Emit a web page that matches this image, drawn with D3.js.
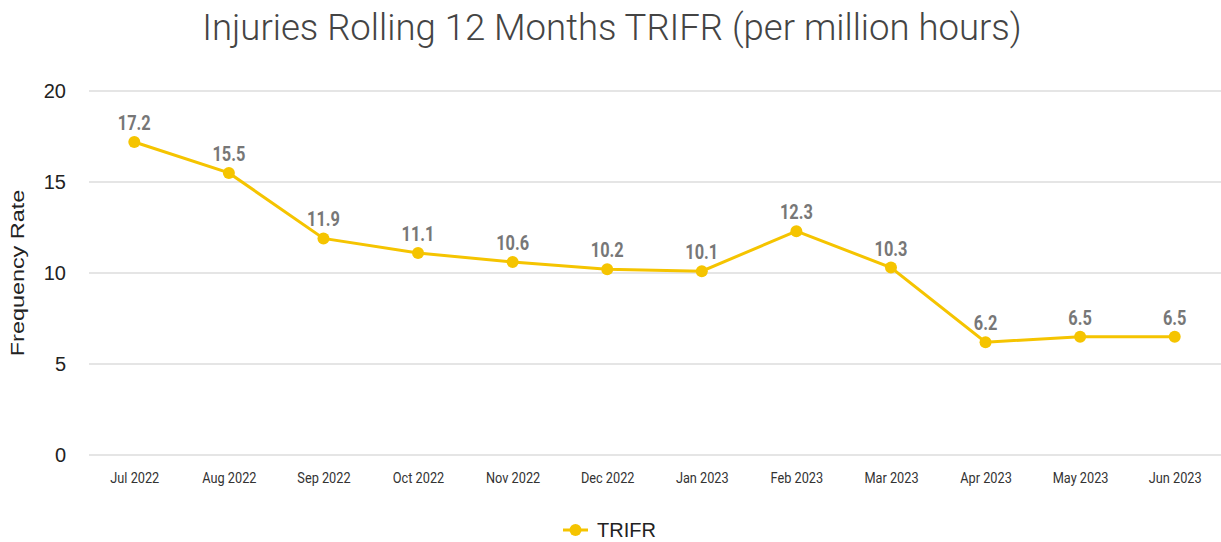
<!DOCTYPE html>
<html>
<head>
<meta charset="utf-8">
<script src="https://cdn.jsdelivr.net/npm/d3@7"></script>
<style>
  body { margin: 0; background: #fff; }
  svg { display: block; }
</style>
</head>
<body>
<div id="chart"></div>
<script>
// chart data
const months = ["Jul 2022", "Aug 2022", "Sep 2022", "Oct 2022", "Nov 2022", "Dec 2022",
    "Jan 2023", "Feb 2023", "Mar 2023", "Apr 2023", "May 2023", "Jun 2023"];
const trifr = [17.2, 15.5, 11.9, 11.1, 10.6, 10.2, 10.1, 12.3, 10.3, 6.2, 6.5, 6.5];
const yTicks = [0, 5, 10, 15, 20];
const seriesName = "TRIFR";

const width = 1221, height = 542;
const gold = "#F5C400";

let svg = d3.select("#chart").append("svg")
    .attr("width", width)
    .attr("height", height);

// scales
let x = d3.scalePoint()
    .domain(months)
    .range([87, 1222])
    .padding(0.5);

let y = d3.scaleLinear()
    .domain([0, 20])
    .range([455, 91]);

// title
svg.append("text")
    .attr("x", 612)
    .attr("y", 40)
    .attr("text-anchor", "middle")
    .style("font-family", "Roboto")
    .style("font-weight", 300)
    .style("font-size", "36.5px")
    .style("fill", "#444")
    .text("Injuries Rolling 12 Months TRIFR (per million hours)");

// gridlines
svg.append("g")
    .selectAll("line")
    .data(yTicks)
    .join("line")
    .attr("x1", 89)
    .attr("x2", 1221)
    .attr("y1", d => y(d))
    .attr("y2", d => y(d))
    .attr("stroke", "#dcdcdc")
    .attr("stroke-width", 1.5);

// y axis
let yAxis = d3.axisLeft(y)
    .tickValues(yTicks)
    .tickSize(0)
    .tickPadding(0);

svg.append("g")
    .attr("class", "y-axis")
    .attr("transform", "translate(66,0)")
    .call(yAxis)
    .call(g => g.select(".domain").remove())
    .selectAll("text")
    .style("font-family", "Liberation Sans, Arial")
    .style("font-size", "20px")
    .style("fill", "#222");

// x axis (labels look a bit condensed in the original)
let xAxis = d3.axisBottom(x)
    .tickSize(0)
    .tickPadding(0);

svg.append("g")
    .attr("class", "x-axis")
    .attr("transform", "translate(0,472)")
    .call(xAxis)
    .call(g => g.select(".domain").remove())
    .selectAll("text")
    .attr("transform", "scale(0.85,1)")
    .style("font-family", "Roboto")
    .style("font-size", "15px")
    .style("fill", "#333");

// y axis title
svg.append("text")
    .attr("transform", "translate(24,273) rotate(-90) scale(1.3,1)")
    .attr("text-anchor", "middle")
    .style("font-family", "Liberation Sans, Arial")
    .style("font-size", "18px")
    .style("fill", "#222")
    .text("Frequency Rate");

// line
let line = d3.line()
    .x((d, i) => x(months[i]))
    .y(d => y(d));

svg.append("path")
    .attr("d", line(trifr))
    .attr("fill", "none")
    .attr("stroke", gold)
    .attr("stroke-width", 3);

svg.append("g")
    .selectAll("circle")
    .data(trifr)
    .join("circle")
    .attr("cx", (d, i) => x(months[i]))
    .attr("cy", d => y(d))
    .attr("r", 6)
    .attr("fill", gold);

// value labels
svg.append("g")
    .selectAll("text")
    .data(trifr)
    .join("text")
    .attr("transform", (d, i) => `translate(${x(months[i])},${y(d) - 12}) scale(0.82,1)`)
    .attr("text-anchor", "middle")
    .style("font-family", "Roboto")
    .style("font-weight", "bold")
    .style("font-size", "20px")
    .style("fill", "#777")
    .text(d => d.toFixed(1));

// legend
let legend = svg.append("g").attr("class", "legend")
    .attr("transform", "translate(563,530)");
legend.append("line")
    .attr("x1", 0).attr("x2", 25)
    .attr("stroke", gold).attr("stroke-width", 3);
legend.append("circle")
    .attr("cx", 12.5).attr("r", 6).attr("fill", gold);
legend.append("text")
    .attr("x", 34).attr("y", 0)
    .attr("dy", "0.35em")
    .style("font-family", "Liberation Sans, Arial")
    .style("font-size", "20px")
    .style("fill", "#222")
    .text(seriesName);
</script>
</body>
</html>
